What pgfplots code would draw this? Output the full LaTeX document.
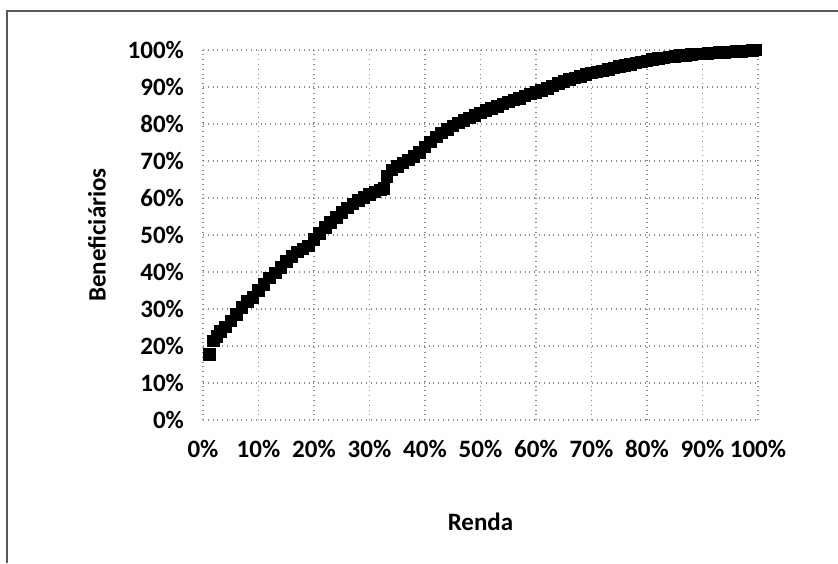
\documentclass[border=0pt]{standalone}
\usepackage{pgfplots}
\pgfplotsset{compat=1.18}
\usepackage{fontspec}
\setmainfont{Carlito}
\begin{document}
\begin{tikzpicture}
\path[use as bounding box] (0,0) rectangle (419pt,-281.5pt);
\draw[gray!70!black, line width=1pt] (3.5pt,-281.5pt) -- (3.5pt,-5.5pt) -- (419pt,-5.5pt);
\begin{axis}[
  at={(101.5pt,-210pt)}, anchor=south west,
  scale only axis, width=277.5pt, height=185pt,
  xmin=0, xmax=100, ymin=0, ymax=100,
  axis line style={draw=none},
  major tick length=0pt,
  xtick={0,10,...,100}, ytick={0,10,...,100},
  xticklabels={0\%,10\%,20\%,30\%,40\%,50\%,60\%,70\%,80\%,90\%,100\%},
  yticklabels={0\%,10\%,20\%,30\%,40\%,50\%,60\%,70\%,80\%,90\%,100\%},
  ticklabel style={font=\bfseries\fontsize{12.5}{14}\selectfont},
  xticklabel style={yshift=-6.5pt},
  yticklabel style={xshift=-6pt},
  grid=major,
  major grid style={dotted, gray!90, line width=0.6pt},
  xlabel={Renda}, ylabel={Beneficiários},
  label style={font=\bfseries\fontsize{12.5}{14}\selectfont},
  xlabel style={at={(axis description cs:0.5,-0.276)}, anchor=center},
  ylabel style={at={(axis description cs:-0.191,0.5)}, anchor=center},
  clip=false,
]
\addplot[only marks, mark=square*, mark size=2.9pt, color=black] coordinates {
(1.2,17.8) (1.9,21.4) (2.5,22.6) (3.1,23.9) (4,25.2) (5,26.8) (6,28.6) (7,30.4) (8,32.0) (9,33.2)
(10,35.0) (11,36.7) (12,38.4) (13,39.8) (14,41.3) (15,42.8) (16,44.2) (17,45.4) (18,46.2) (19,47.1)
(20,48.8) (21,50.4) (22,52.0) (23,53.4) (24,54.8) (25,56.1) (26,57.3) (27,58.4) (28,59.3) (29,60.2)
(30,61.0) (31,61.6) (32,62.2) (32.6,62.6) (33.1,65.8) (34,67.6) (35,68.6) (36,69.5) (37,70.3) (38,71.2)
(39,72.3) (40,73.8) (41,75.2) (42,76.5) (43,77.6) (44,78.6) (45,79.5) (46,80.3) (47,81.0) (48,81.7)
(49,82.3) (50,83.0) (51,83.6) (52,84.2) (53,84.8) (54,85.4) (55,86.0) (56,86.5) (57,87.0) (58,87.6)
(59,88.1) (60,88.6) (61,89.1) (62,89.7) (63,90.3) (64,90.9) (65,91.5) (66,92.0) (67,92.5) (68,92.9)
(69,93.4) (70,93.8) (71,94.1) (72,94.4) (73,94.8) (74,95.2) (75,95.5) (76,95.8) (77,96.1) (78,96.5)
(79,96.8) (80,97.1) (81,97.4) (82,97.7) (83,97.9) (84,98.1) (85,98.3) (86,98.5) (87,98.6) (88,98.8)
(89,98.9) (90,99.0) (91,99.1) (92,99.2) (93,99.3) (94,99.4) (95,99.5) (96,99.6) (97,99.7) (98,99.8)
(99,99.9) (99.6,100)
};
\end{axis}
\end{tikzpicture}
\end{document}
